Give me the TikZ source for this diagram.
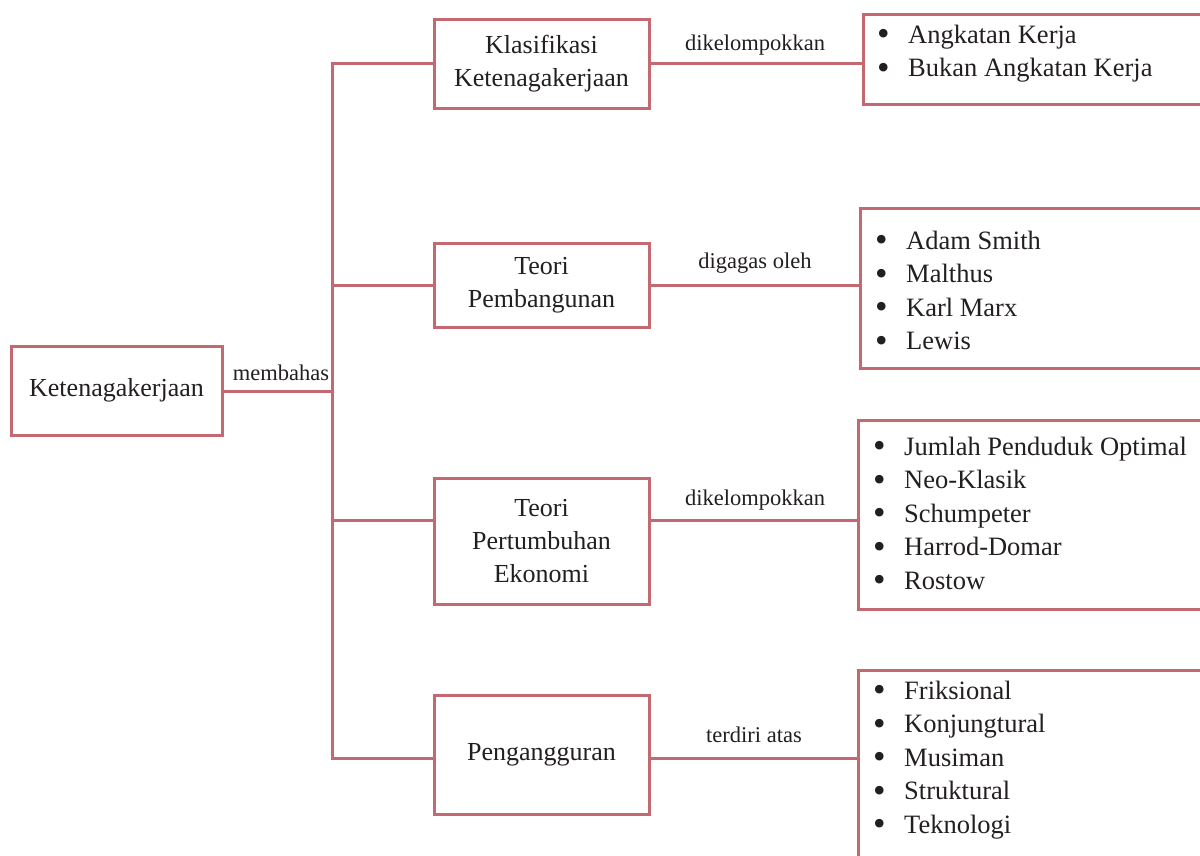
\documentclass[tikz,border=0pt]{standalone}
\usepackage{fontspec}
\setmainfont{Liberation Serif}
\definecolor{rose}{HTML}{C46872}
\definecolor{ink}{HTML}{231F20}
\tikzset{
  x=1pt, y=-1pt,
  box/.style={draw=rose, line width=3pt, inner sep=0pt, align=center, text=ink,
              font=\fontsize{26}{33}\selectfont},
  conn/.style={draw=rose, line width=3pt},
  lab/.style={text=ink, inner sep=0pt, font=\fontsize{22.5}{26}\selectfont},
  itm/.style={text=ink, inner sep=0pt, font=\fontsize{26.5}{33}\selectfont},
}
\begin{document}
\begin{tikzpicture}
\useasboundingbox (0,0) rectangle (1200,855);
\clip (0,0) rectangle (1200,855);

% root
\node[box, minimum width=211pt, minimum height=89pt] (root) at (116.5,390.5) {Ketenagakerjaan};
% branch boxes
\node[box, minimum width=215pt, minimum height=89pt] (b1) at (541.5,63.5) {Klasifikasi\\Ketenagakerjaan};
\node[box, minimum width=215pt, minimum height=84pt] (b2) at (541.5,285) {Teori\\Pembangunan};
\node[box, minimum width=215pt, minimum height=126pt] (b3) at (541.5,541) {Teori\\Pertumbuhan\\Ekonomi};
\node[box, minimum width=215pt, minimum height=119pt] (b4) at (541.5,754.5) {Pengangguran};
% right boxes (extend past the page edge)
\node[box, anchor=north west, minimum width=360pt, minimum height=90pt] (r1) at (862,13) {};
\node[box, anchor=north west, minimum width=360pt, minimum height=160pt] (r2) at (859,207) {};
\node[box, anchor=north west, minimum width=360pt, minimum height=189pt] (r3) at (857,419) {};
\node[box, anchor=north west, minimum width=360pt, minimum height=220pt] (r4) at (857,669) {};

% trunk coordinates
\coordinate (t0) at (332,391);
\coordinate (t1) at (332,63);
\coordinate (t2) at (332,285);
\coordinate (t3) at (332,520);
\coordinate (t4) at (332,758);

\draw[conn] (root.east |- t0) -- (t0);
\draw[conn, line join=miter] (t1 -| b1.west) -- (t1) -- (t4) -- (t4 -| b4.west);
\foreach \k in {2,3}{
  \draw[conn] (t\k) -- (t\k -| b\k.west);
}
\foreach \k in {1,2,3,4}{
  \draw[conn] (b\k.east |- t\k) -- (t\k -| r\k.west);
}

% connector labels
\node[lab, anchor=base] (l0) at (281,380) {membahas};
\node[lab, anchor=base] (l1) at (755,50) {dikelompokkan};
\node[lab, anchor=base] (l2) at (755,268) {digagas oleh};
\node[lab, anchor=base] (l3) at (755,505) {dikelompokkan};
\node[lab, anchor=base] (l4) at (754,742) {terdiri atas};

% item lists
\newcommand\itemlist[4]{%
  \foreach \t [count=\i] in {#4}{
    \node[itm, anchor=base west] (#1-\i) at (#2, {#3+33.6*(\i-1)}) {\makebox[31pt][l]{\raisebox{-2.5pt}{\scalebox{1.35}{\textbullet}}}\t};
  }}
\itemlist{r1}{877}{43}{Angkatan Kerja, Bukan Angkatan Kerja}
\itemlist{r2}{875}{249}{Adam Smith, Malthus, Karl Marx, Lewis}
\itemlist{r3}{873}{455}{Jumlah Penduduk Optimal, Neo-Klasik, Schumpeter, Harrod-Domar, Rostow}
\itemlist{r4}{873}{699}{Friksional, Konjungtural, Musiman, Struktural, Teknologi}
\end{tikzpicture}
\end{document}
